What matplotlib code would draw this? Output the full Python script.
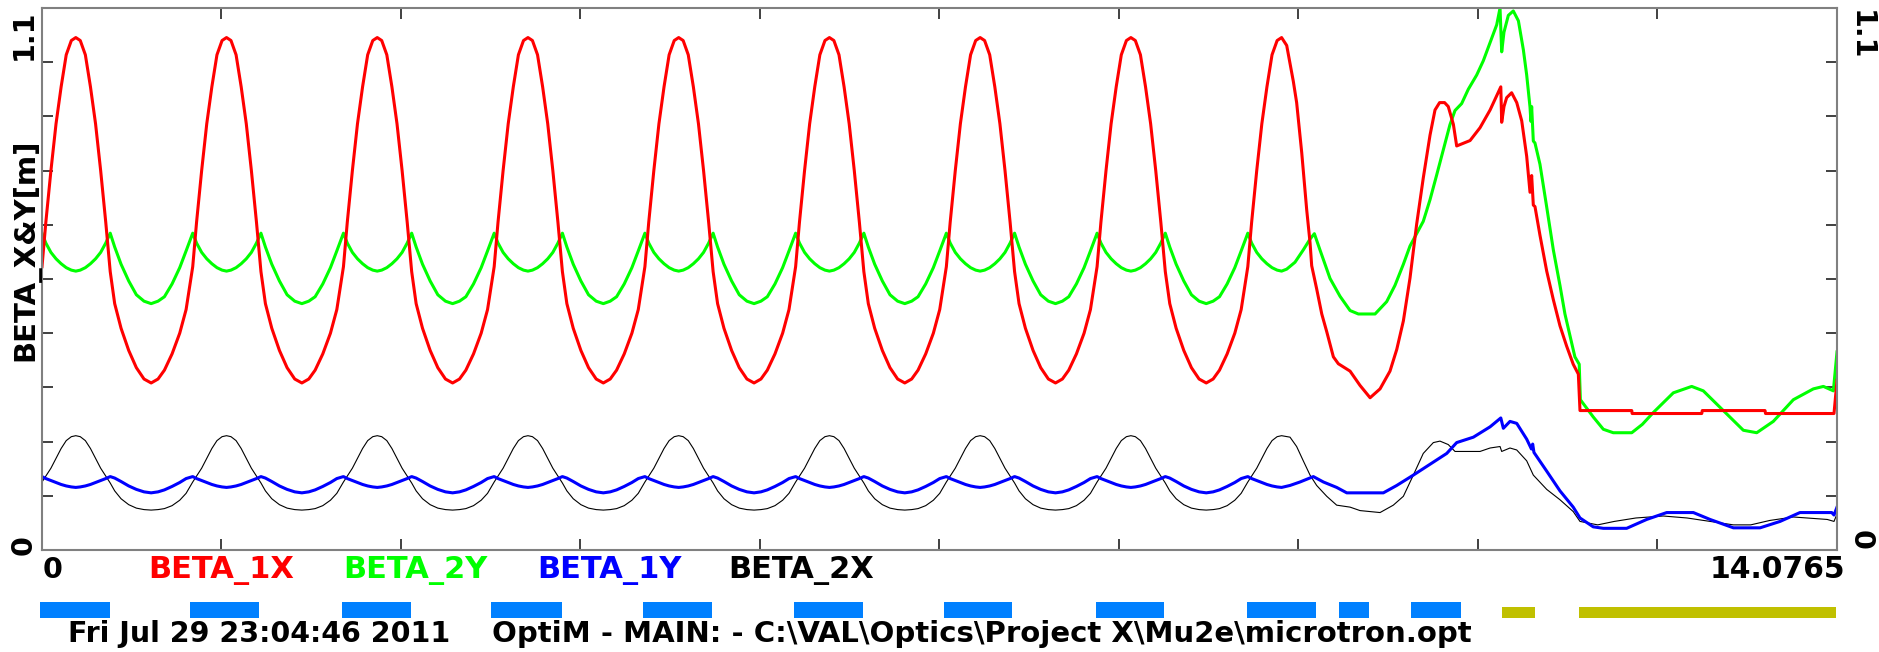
import numpy as np
import matplotlib
matplotlib.use("Agg")
import matplotlib.pyplot as plt

W, H = 1879, 652
S_MAX = 14.0765
Y_MAX = 1.1

# one lattice period, positions measured from the quad entrance [m]
cell_u = [0.00, 0.03, 0.07, 0.11, 0.15, 0.19, 0.23, 0.265, 0.30, 0.34, 0.38, 0.42, 0.46,
          0.50, 0.535, 0.57, 0.62, 0.68, 0.74, 0.80, 0.856, 0.91, 0.96, 1.02, 1.08, 1.13]
cell_start = [0.0, 1.182, 2.364, 3.546, 4.728, 5.910, 7.092, 8.274, 9.456]

beta_1x_cell = [0.575, 0.665, 0.770, 0.865, 0.940, 1.005, 1.034, 1.040, 1.034, 1.005, 0.940, 0.865, 0.770,
                0.665, 0.565, 0.500, 0.450, 0.405, 0.370, 0.347, 0.339, 0.347, 0.365, 0.398, 0.440, 0.488]
beta_2y_cell = [0.643, 0.623, 0.604, 0.591, 0.581, 0.573, 0.568, 0.566, 0.568, 0.573, 0.581, 0.591, 0.604,
                0.623, 0.643, 0.615, 0.580, 0.546, 0.518, 0.505, 0.500, 0.505, 0.514, 0.540, 0.573, 0.607]
beta_1y_cell = [0.149, 0.145, 0.141, 0.137, 0.133, 0.130, 0.128, 0.127, 0.128, 0.130, 0.133, 0.137, 0.141,
                0.145, 0.149, 0.146, 0.139, 0.130, 0.123, 0.118, 0.116, 0.118, 0.122, 0.129, 0.137, 0.145]
beta_2x_cell = [0.138, 0.150, 0.166, 0.186, 0.206, 0.222, 0.230, 0.232, 0.230, 0.222, 0.206, 0.186, 0.166,
                0.150, 0.136, 0.120, 0.104, 0.092, 0.085, 0.082, 0.081, 0.082, 0.084, 0.090, 0.101, 0.115]

# matching section after the last periodic quad (s [m], beta [m])
beta_1x_tail = [(9.761, 1.024), (9.813, 0.951), (9.839, 0.908), (9.879, 0.806), (9.918, 0.690),
                (9.944, 0.624), (9.957, 0.577), (9.996, 0.530), (10.036, 0.479), (10.075, 0.443),
                (10.127, 0.392), (10.166, 0.378), (10.258, 0.363), (10.336, 0.334), (10.415, 0.309),
                (10.493, 0.327), (10.571, 0.363), (10.624, 0.407), (10.676, 0.465), (10.728, 0.552),
                (10.780, 0.661), (10.832, 0.755), (10.885, 0.842), (10.924, 0.893), (10.960, 0.908),
                (10.999, 0.908), (11.028, 0.900), (11.068, 0.864), (11.094, 0.820), (11.133, 0.824),
                (11.199, 0.831), (11.277, 0.857), (11.356, 0.893), (11.421, 0.929), (11.440, 0.940),
                (11.447, 0.868), (11.465, 0.900), (11.486, 0.918), (11.525, 0.928), (11.565, 0.908),
                (11.604, 0.871), (11.643, 0.799), (11.669, 0.726), (11.682, 0.760), (11.695, 0.700),
                (11.708, 0.697), (11.747, 0.639), (11.800, 0.566), (11.852, 0.508), (11.904, 0.455),
                (11.956, 0.414), (12.008, 0.377), (12.048, 0.357), (12.061, 0.283), (12.467, 0.283),
                (12.470, 0.277), (13.016, 0.277), (13.020, 0.283), (13.512, 0.283), (13.516, 0.277),
                (14.053, 0.277), (14.0765, 0.344)]
beta_2y_tail = [(9.761, 0.570), (9.826, 0.584), (9.891, 0.609), (9.944, 0.631), (9.978, 0.642),
                (10.022, 0.609), (10.101, 0.551), (10.179, 0.515), (10.258, 0.486), (10.323, 0.479),
                (10.454, 0.479), (10.545, 0.504), (10.610, 0.537), (10.676, 0.580), (10.728, 0.617),
                (10.780, 0.642), (10.832, 0.667), (10.885, 0.711), (10.937, 0.761), (10.989, 0.812),
                (11.041, 0.863), (11.081, 0.892), (11.133, 0.906), (11.185, 0.935), (11.251, 0.964),
                (11.303, 0.993), (11.356, 1.030), (11.408, 1.066), (11.434, 1.100), (11.447, 1.011),
                (11.465, 1.051), (11.499, 1.085), (11.538, 1.094), (11.578, 1.074), (11.617, 1.015),
                (11.643, 0.964), (11.669, 0.899), (11.676, 0.870), (11.682, 0.900), (11.695, 0.830),
                (11.708, 0.826), (11.747, 0.783), (11.800, 0.696), (11.852, 0.609), (11.904, 0.537),
                (11.943, 0.479), (11.982, 0.435), (12.021, 0.392), (12.055, 0.377), (12.064, 0.305),
                (12.165, 0.270), (12.244, 0.245), (12.322, 0.238), (12.467, 0.238), (12.550, 0.255),
                (12.636, 0.279), (12.793, 0.319), (12.937, 0.332), (13.028, 0.323), (13.185, 0.283),
                (13.342, 0.243), (13.447, 0.238), (13.577, 0.261), (13.734, 0.305), (13.891, 0.327),
                (13.970, 0.332), (14.048, 0.323), (14.0765, 0.402)]
beta_1y_tail = [(9.787, 0.131), (9.865, 0.138), (9.970, 0.149), (10.049, 0.138), (10.153, 0.127),
                (10.232, 0.116), (10.519, 0.116), (10.624, 0.131), (10.754, 0.152), (10.885, 0.174),
                (11.016, 0.196), (11.094, 0.218), (11.225, 0.229), (11.356, 0.250), (11.440, 0.268),
                (11.460, 0.247), (11.512, 0.261), (11.565, 0.257), (11.643, 0.225), (11.680, 0.205),
                (11.690, 0.215), (11.700, 0.198), (11.800, 0.160), (11.904, 0.120), (12.008, 0.087),
                (12.061, 0.065), (12.165, 0.047), (12.244, 0.044), (12.427, 0.044), (12.584, 0.062),
                (12.741, 0.076), (12.950, 0.076), (13.081, 0.062), (13.264, 0.045), (13.473, 0.045),
                (13.630, 0.058), (13.786, 0.076), (14.035, 0.076), (14.053, 0.071), (14.0765, 0.087)]
beta_2x_tail = [(9.787, 0.229), (9.839, 0.210), (9.891, 0.181), (9.944, 0.152), (9.996, 0.131),
                (10.075, 0.109), (10.153, 0.091), (10.258, 0.087), (10.336, 0.080), (10.493, 0.076),
                (10.597, 0.091), (10.676, 0.109), (10.754, 0.152), (10.832, 0.196), (10.911, 0.218),
                (10.963, 0.221), (11.028, 0.214), (11.081, 0.200), (11.277, 0.200), (11.356, 0.207),
                (11.434, 0.210), (11.447, 0.200), (11.512, 0.207), (11.565, 0.203), (11.643, 0.181),
                (11.695, 0.152), (11.800, 0.123), (11.904, 0.102), (12.008, 0.078), (12.061, 0.058),
                (12.200, 0.051), (12.330, 0.058), (12.500, 0.065), (12.714, 0.069), (12.900, 0.065),
                (13.081, 0.058), (13.264, 0.051), (13.400, 0.051), (13.550, 0.060), (13.734, 0.067),
                (14.000, 0.062), (14.053, 0.058), (14.0765, 0.073)]

# element bars under the plot [m]
quad_start = [-0.014, 1.161, 2.353, 3.521, 4.713, 5.901, 7.071, 8.262, 9.453, 10.171, 10.733]
quad_end = [0.535, 1.702, 2.894, 4.078, 5.254, 6.438, 7.610, 8.802, 9.990, 10.406, 11.125]
other_start = [11.450, 12.053]
other_end = [11.709, 14.069]

labels = ["BETA_1X", "BETA_2Y", "BETA_1Y", "BETA_2X"]
colors = ["#FF0000", "#00FF00", "#0000FF", "#000000"]


def build(cell_vals, tail):
    s, v = [], []
    last = len(cell_start) - 1
    for i, s0 in enumerate(cell_start):
        for u, b in zip(cell_u, cell_vals):
            if i == last and u > 0.265:
                break
            s.append(s0 + u)
            v.append(b)
    for a, b in tail:
        s.append(a)
        v.append(b)
    return s, v


plt.rcParams['font.family'] = ['DejaVu Sans']
plt.rcParams['font.weight'] = 'bold'

fig = plt.figure(figsize=(W / 100, H / 100), dpi=100)
ax = fig.add_axes([42 / W, 1 - 550 / H, 1795 / W, 542 / H])

curves = {
    "BETA_2Y": build(beta_2y_cell, beta_2y_tail),
    "BETA_1X": build(beta_1x_cell, beta_1x_tail),
    "BETA_2X": build(beta_2x_cell, beta_2x_tail),
    "BETA_1Y": build(beta_1y_cell, beta_1y_tail),
}
widths = {"BETA_1X": 2.2, "BETA_2Y": 2.2, "BETA_1Y": 2.2, "BETA_2X": 0.8}
for name, (s, v) in curves.items():
    ax.plot(s, v, color=colors[labels.index(name)], lw=widths[name])

ax.set_xlim(0, S_MAX)
ax.set_ylim(0, Y_MAX)
ax.set_xticks(np.linspace(0, S_MAX, 11)[1:-1])
ax.set_yticks(np.linspace(0, Y_MAX, 11)[1:-1])
ax.tick_params(direction='in', length=8, width=1.2, color='#202020',
               top=True, right=True, labelbottom=False, labelleft=False)
for sp in ax.spines.values():
    sp.set_color('#808080')
    sp.set_linewidth(1.5)


def px(x, y):
    return x / W, 1 - y / H


fs = 20.5
fig.text(*px(43, 578), "0", fontsize=fs, ha='left', va='baseline')
fig.text(*px(1845, 578), "14.0765", fontsize=21.5, ha='right', va='baseline')
fig.text(*px(24, 545), "0", fontsize=fs, rotation=90, ha='center', va='center')
fig.text(*px(24, 35), "1.1", fontsize=fs, rotation=90, ha='center', va='center')
fig.text(*px(1861, 540), "0", fontsize=fs, rotation=270, ha='center', va='center')
fig.text(*px(1861, 35), "1.1", fontsize=fs, rotation=270, ha='center', va='center')
fig.text(*px(26, 250), "BETA_X&Y[m]", fontsize=21, rotation=90, ha='center', va='center')

for name, c, x0 in zip(labels, colors, [148, 343, 537, 728]):
    fig.text(*px(x0, 578), name, fontsize=22, color=c, ha='left', va='baseline')

fig.text(*px(68, 642), "Fri Jul 29 23:04:46 2011", fontsize=20.5, ha='left', va='baseline')
fig.text(*px(492, 642), r"OptiM - MAIN: - C:\VAL\Optics\Project X\Mu2e\microtron.opt",
         fontsize=21, ha='left', va='baseline')

# element bars
axb = fig.add_axes([42 / W, 1 - 618 / H, 1795 / W, 16 / H])
axb.set_xlim(0, S_MAX)
axb.set_ylim(0, 16)
axb.axis('off')
axb.broken_barh([(a, b - a) for a, b in zip(quad_start, quad_end)], (0, 16),
                facecolors='#0080FF', clip_on=False)
axb.broken_barh([(a, b - a) for a, b in zip(other_start, other_end)], (0, 11),
                facecolors='#C0C000', clip_on=False)

fig.savefig("out.png", dpi=100)
